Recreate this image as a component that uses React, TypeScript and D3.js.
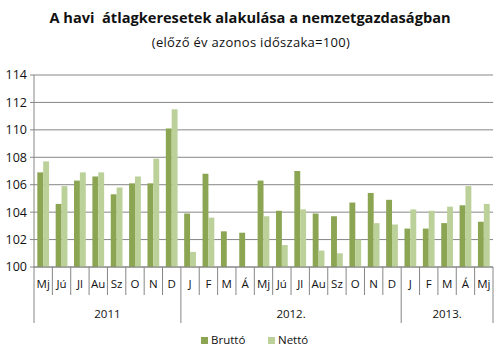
import { useMemo } from "react"
import * as d3 from "d3"

const months = ["Mj", "Jú", "Jl", "Au", "Sz", "O", "N", "D", "J", "F", "M", "Á", "Mj", "Jú", "Jl", "Au", "Sz", "O", "N", "D", "J", "F", "M", "Á", "Mj"]
const years = [
  { label: "2011", count: 8 },
  { label: "2012.", count: 12 },
  { label: "2013.", count: 5 },
]
const brutto = [106.9, 104.6, 106.3, 106.6, 105.3, 106.1, 106.1, 110.1, 103.9, 106.8, 102.6, 102.5, 106.3, 104.1, 107.0, 103.9, 103.7, 104.7, 105.4, 104.9, 102.8, 102.8, 103.2, 104.5, 103.3]
const netto = [107.7, 105.9, 106.9, 106.9, 105.8, 106.6, 107.9, 111.5, 101.1, 103.6, 100, 100, 103.7, 101.6, 104.2, 101.2, 101.0, 102.0, 103.2, 103.1, 104.2, 104.1, 104.4, 105.9, 104.6]
const yTicks = [100, 102, 104, 106, 108, 110, 112, 114]

const W = 499
const H = 358
const left = 34
const right = 493
const top = 75
const bottom = 267
const font = "Open Sans, sans-serif"
const cBrutto = "#8ba553"
const cNetto = "#bcd19a"
const grid = "#868686"

export default function App() {
  const x = useMemo(() => d3.scaleBand<number>().domain(d3.range(months.length)).range([left, right]), [])
  const y = useMemo(() => d3.scaleLinear().domain([100, 114]).range([bottom, top]), [])
  const bw = x.bandwidth()
  const barW = bw * 0.32
  const offset = (bw - 2 * barW) / 2

  let acc = 0
  const yearBounds = years.map((yr) => {
    const start = acc
    acc += yr.count
    return { ...yr, start, end: acc }
  })

  return (
    <div style={{ position: "absolute", left: 0, top: 0 }}>
      <svg width={W} height={H} style={{ display: "block", background: "#fff" }} fontFamily={font}>
        <text x={250} y={23} textAnchor="middle" fontSize={14.6} fontWeight="bold" fill="#111" style={{ whiteSpace: "pre" }}>
          {"A havi  átlagkeresetek alakulása a nemzetgazdaságban"}
        </text>
        <text x={251} y={47} textAnchor="middle" fontSize={13} letterSpacing={0.3} fill="#111">
          (előző év azonos időszaka=100)
        </text>

        {yTicks.map((t) => (
          <g key={t}>
            <line x1={left - 4} x2={right} y1={y(t)} y2={y(t)} stroke={grid} strokeWidth={1} />
            <text x={27} y={y(t)} dy="0.35em" textAnchor="end" fontSize={12.5} fill="#111">
              {t}
            </text>
          </g>
        ))}
        <line x1={left} x2={left} y1={top} y2={bottom} stroke={grid} />

        {months.map((m, i) => (
          <g key={i}>
            <rect x={x(i)! + offset} y={y(brutto[i])} width={barW} height={y(100) - y(brutto[i])} fill={cBrutto} />
            <rect x={x(i)! + offset + barW} y={y(netto[i])} width={barW} height={y(100) - y(netto[i])} fill={cNetto} />
          </g>
        ))}

        <line x1={left} x2={right} y1={bottom} y2={bottom} stroke={grid} />
        {d3.range(months.length + 1).map((i) => {
          const xx = i < months.length ? x(i)! : right
          const isYear = yearBounds.some((yb) => yb.start === i || yb.end === i)
          return <line key={i} x1={xx} x2={xx} y1={bottom} y2={isYear ? 323 : 295} stroke={grid} />
        })}
        {months.map((m, i) => (
          <text key={i} x={x(i)! + bw / 2} y={288} textAnchor="middle" fontSize={11.5} fill="#111">
            {m}
          </text>
        ))}
        {yearBounds.map((yb) => {
          const x0 = x(yb.start)!
          const x1 = yb.end < months.length ? x(yb.end)! : right
          return (
            <text key={yb.label} x={(x0 + x1) / 2} y={318} textAnchor="middle" fontSize={11.5} fill="#111">
              {yb.label}
            </text>
          )
        })}

        <rect x={201} y={337} width={7} height={7} fill={cBrutto} />
        <text x={211} y={344} fontSize={11.5} fill="#111">Bruttó</text>
        <rect x={268} y={337} width={7} height={7} fill={cNetto} />
        <text x={278} y={344} fontSize={11.5} fill="#111">Nettó</text>
      </svg>
    </div>
  )
}
